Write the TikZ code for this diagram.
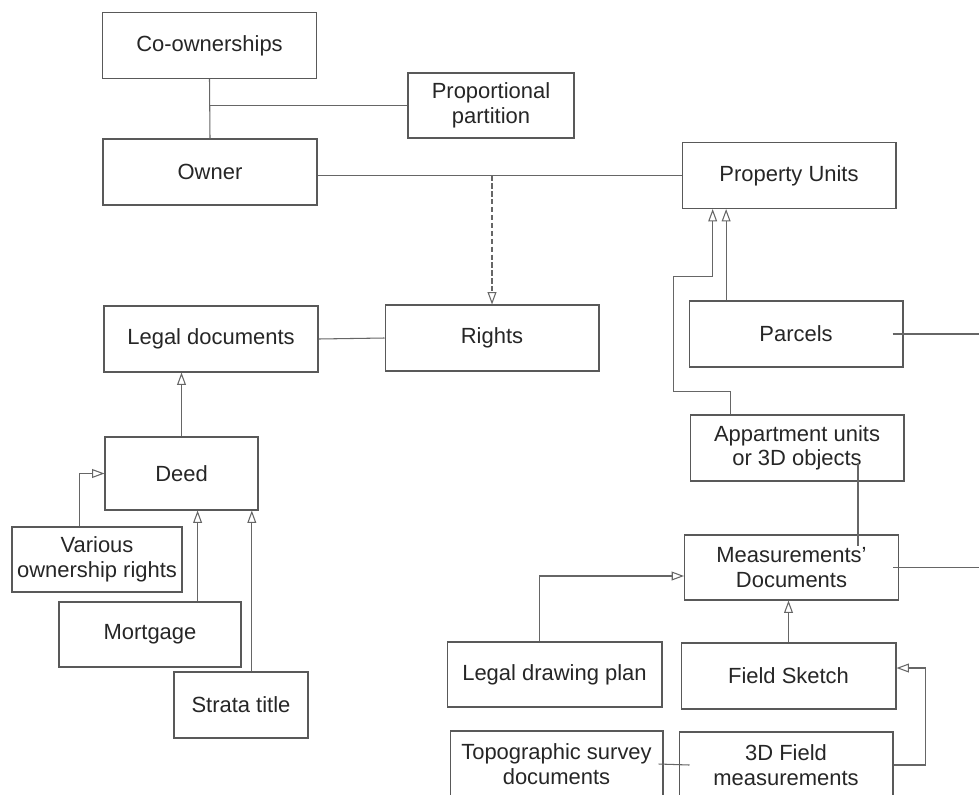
\documentclass[tikz,border=0pt]{standalone}
\usepackage{fontspec}
\setmainfont{Liberation Sans}
\usetikzlibrary{arrows.meta,calc}

\begin{document}
\begin{tikzpicture}[x=0.02cm,y=-0.02cm,
    every node/.style={draw=black!65, line width=0.6pt, rectangle, inner sep=2pt, align=center,
        minimum width=4.28cm, minimum height=1.32cm, text=black!85, font=\fontsize{12.5}{14}\selectfont},
    link/.style={draw=black!60, line width=0.6pt},
    gen/.style={link, -{Triangle[open, length=7pt, width=5pt]}},
    dep/.style={gen, dash pattern=on 3pt off 1.5pt}]

    \clip (0,0) rectangle (979,794);

    % Owner side
    \node (coown) at (209.5,45.5) {Co-ownerships};
    \node (propart) at (491,105.5) [minimum width=3.32cm, minimum height=1.3cm] {Proportional\\partition};
    \node (owner) at (210,172) {Owner};
    \node (propunits) at (789,175.5) {Property Units};
    \node (rights) at (492,338) {Rights};

    % Legal documents
    \node (legaldocs) at (211,339) {Legal documents};
    \node (deed) at (181.5,473.5) [minimum width=3.06cm, minimum height=1.46cm] {Deed};
    \node (various) at (97,559.5) [minimum width=3.4cm, minimum height=1.3cm] {Various\\ownership rights};
    \node (mortgage) at (150,634.5) [minimum width=3.64cm, minimum height=1.3cm] {Mortgage};
    \node (strata) at (241,705) [minimum width=2.68cm] {Strata title};

    % Property units
    \node (parcels) at (796,334) {Parcels};
    \node (apart) at (797,448) {Appartment units\\or 3D objects};

    % Measurements
    \node (measdocs) at (791.5,567.5) [minimum height=1.3cm] {Measurements'\\Documents};
    \node (legaldraw) at (554.5,674.5) [minimum width=4.3cm, minimum height=1.3cm] {Legal drawing plan};
    \node (fieldsketch) at (788.5,676) [minimum width=4.3cm] {Field Sketch};
    \node (topo) at (556.5,764) [minimum width=4.26cm] {Topographic survey\\documents};
    \node (field3d) at (786,765) {3D Field\\measurements};

    % Helper points
    \coordinate (rim) at (979,0);
    \coordinate (v1) at ($(various.north west)!0.4!(various.north east)$);
    \coordinate (m1) at ($(mortgage.north west)!0.76!(mortgage.north east)$);
    \coordinate (s1) at ($(strata.north west)!0.58!(strata.north east)$);
    \coordinate (p1) at ($(parcels.north west)!0.175!(parcels.north east)$);
    \coordinate (a1) at ($(apart.north west)!0.19!(apart.north east)$);
    \coordinate (u1) at ($(propunits.south west)!0.145!(propunits.south east)$);
    \coordinate (a2) at ([xshift=1.22cm,yshift=0.38cm]apart.south);
    \coordinate (a3) at (a2 |- measdocs.north);
    \coordinate (l1) at ($(legaldraw.north west)!0.43!(legaldraw.north east)$);

    % Owner links
    \draw[link] (coown.south) -- (owner.north);
    \draw[link] (coown.south |- propart.west) -- (propart.west);
    \draw[link] (owner.east |- propunits.west) -- (propunits.west);
    \draw[dep] (rights.north |- propunits.west) -- (rights.north);
    \draw[link] (legaldocs.east) -- (rights.west);

    % Deed links
    \draw[gen] (deed.north) -- (deed.north |- legaldocs.south);
    \draw[gen] (v1) |- (deed.west);
    \draw[gen] (m1) -- (m1 |- deed.south);
    \draw[gen] (s1) -- (s1 |- deed.south);

    % Property unit links
    \draw[gen] (p1) -- (p1 |- propunits.south);
    \draw[gen] (a1) -- ++(0,-23) -| ++(-57,-115) -| (u1);
    \draw[link] ([xshift=-0.22cm]parcels.east) -- (parcels.east -| rim);
    \draw[link] (a2) -- ([yshift=-0.24cm]a3);

    % Measurement links
    \draw[link] ([xshift=-0.12cm]measdocs.east) -- (measdocs.east -| rim);
    \draw[gen] (l1) |- ([yshift=-0.17cm]measdocs.west);
    \draw[gen] (fieldsketch.north) -- (fieldsketch.north |- measdocs.south);
    \draw[gen] (field3d.east) -- ++(32,0) |- ([yshift=0.16cm]fieldsketch.east);
    \draw[link] ([xshift=-0.1cm]topo.east) -- ([xshift=0.22cm]field3d.west);

\end{tikzpicture}
\end{document}
